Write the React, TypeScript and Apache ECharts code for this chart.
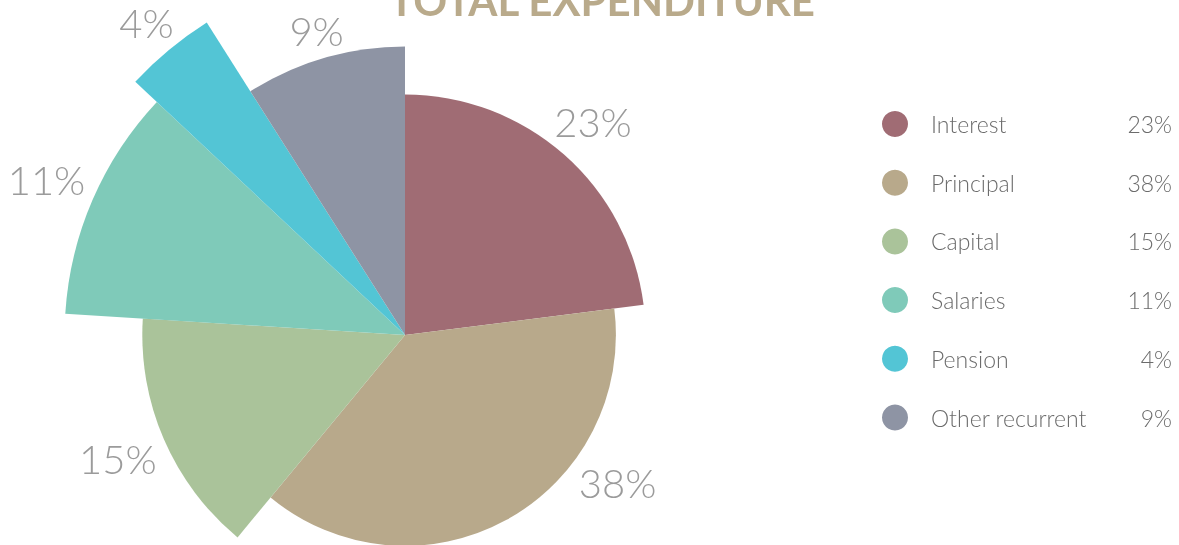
import { useEffect, useRef } from "react";
import * as echarts from "echarts";

const categories = ["Interest", "Principal", "Capital", "Salaries", "Pension", "Other recurrent"];
const shares = [23, 38, 15, 11, 4, 9];
// relative slice radius (percent of the largest slice)
const sliceSizes = [65, 57, 71, 92, 100, 78];
const colors = ["#a06c74", "#b8a98b", "#aac39a", "#7fcab9", "#53c5d5", "#8e94a4"];
const titleText = "TOTAL EXPENDITURE";

export default function App() {
  const ref = useRef<HTMLDivElement>(null);
  useEffect(() => {
    const chart = echarts.init(ref.current!, null, { renderer: "svg" });
    const H = 545;
    const cx = 405;
    const cy = 335;
    const maxR = 370;
    const total = shares.reduce((a, b) => a + b, 0);
    const labelFont = 40;
    const gap = 14;
    const bottomLimit = H - 62;
    const fontFamily = "Lato, 'Open Sans', sans-serif";

    const renderItem = (params: any, api: any) => {
      const i = params.dataIndex;
      const v = api.value(1);
      const size = api.value(2);
      let before = 0;
      for (let k = 0; k < i; k++) before += shares[k];
      const a0 = (before / total) * 2 * Math.PI;
      const a1 = ((before + v) / total) * 2 * Math.PI;
      const r = (size / 100) * maxR;
      const mid = (a0 + a1) / 2;
      const text = Math.round((v / total) * 100) + "%";
      const w = text.length * 0.6 * labelFont;
      const hh = 8;
      const support = (t: number) => Math.abs(Math.sin(t)) * (w / 2) + Math.abs(Math.cos(t)) * hh;
      let th = mid;
      let R = r + gap + support(th);
      if (cy - R * Math.cos(th) > bottomLimit) {
        for (let it = 0; it < 3; it++) {
          const c = (cy - bottomLimit) / R;
          const base = Math.acos(Math.max(-1, Math.min(1, c)));
          th = Math.sin(mid) >= 0 ? base : 2 * Math.PI - base;
          R = r + gap + support(th);
        }
      }
      return {
        type: "group",
        children: [
          {
            type: "sector",
            shape: {
              cx,
              cy,
              r0: 0,
              r,
              startAngle: a0 - Math.PI / 2,
              endAngle: a1 - Math.PI / 2,
              clockwise: true,
            },
            style: { fill: colors[i] },
          },
          {
            type: "text",
            x: cx + R * Math.sin(th),
            y: cy - R * Math.cos(th),
            style: {
              text,
              fill: "#9b9b9b",
              fontSize: labelFont,
              fontWeight: 300,
              fontFamily,
              align: "center",
              verticalAlign: "middle",
            },
          },
        ],
      };
    };

    chart.setOption({
      animation: false,
      graphic: [
        {
          type: "text",
          x: 602,
          y: 0,
          style: {
            text: titleText,
            fill: "#b9aa8b",
            fontSize: 42,
            fontWeight: "bold",
            fontFamily,
            align: "center",
            verticalAlign: "middle",
          },
        },
      ],
      legend: {
        orient: "vertical",
        left: 882,
        top: 111,
        padding: 0,
        icon: "circle",
        itemWidth: 62,
        itemHeight: 26,
        itemGap: 32.7,
        selectedMode: false,
        data: categories,
        formatter: (name: string) => {
          const idx = categories.indexOf(name);
          return `{n|${name}}{v|${shares[idx]}%}`;
        },
        textStyle: {
          fontFamily,
          fontWeight: 300,
          fontSize: 23,
          color: "#6b6b6b",
          rich: {
            n: { width: 175, fontFamily, fontWeight: 300, fontSize: 23, color: "#6b6b6b" },
            v: { width: 66, align: "right", fontFamily, fontWeight: 300, fontSize: 23, color: "#6b6b6b" },
          },
        },
      },
      series: [
        {
          type: "pie",
          name: "legendSource",
          center: [cx, cy],
          radius: [0, 0],
          silent: true,
          label: { show: false },
          labelLine: { show: false },
          data: categories.map((n, i) => ({ name: n, value: shares[i], itemStyle: { color: colors[i] } })),
        },
        {
          type: "custom",
          coordinateSystem: "none",
          renderItem,
          silent: true,
          data: categories.map((n, i) => ({ name: n, value: [i, shares[i], sliceSizes[i]] })),
        },
      ],
    });
    return () => chart.dispose();
  }, []);
  return (
    <div
      ref={ref}
      style={{ position: "fixed", left: 0, top: 0, width: 1179, height: 545 }}
    />
  );
}
